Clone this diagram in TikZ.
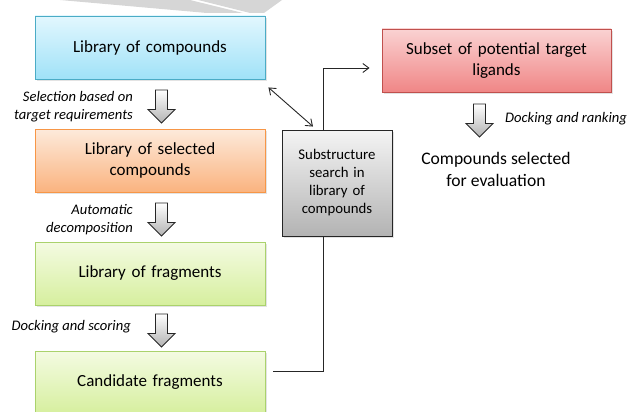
\documentclass[tikz,border=0pt]{standalone}
\usepackage{fontspec}
\setmainfont{Carlito}
\usetikzlibrary{arrows.meta,shadows}
\definecolor{bluetop}{HTML}{E2F7FE}
\definecolor{bluebot}{HTML}{A0E2F8}
\definecolor{blueline}{HTML}{4BACC6}
\definecolor{orgtop}{HTML}{FDEADB}
\definecolor{orgbot}{HTML}{FAB37F}
\definecolor{orgline}{HTML}{F79646}
\definecolor{grntop}{HTML}{F4FBE2}
\definecolor{grnbot}{HTML}{D6EF9E}
\definecolor{grnline}{HTML}{AAD26C}
\definecolor{redtop}{HTML}{FAD2D2}
\definecolor{redbot}{HTML}{F08686}
\definecolor{redline}{HTML}{C0504D}
\definecolor{gtop}{HTML}{F4F4F4}
\definecolor{gbot}{HTML}{B3B3B3}
\definecolor{wmark}{HTML}{D6D6D6}
\tikzset{
  mytip/.tip={Straight Barb[length=6pt,width=9pt]},
  box/.style={rectangle, minimum width=230pt, minimum height=63pt, inner sep=2pt,
    align=center, text width=220pt, line width=0.9pt,
    font=\fontsize{17}{21.5}\selectfont,
    drop shadow={opacity=0.22, shadow xshift=2pt, shadow yshift=-2pt}},
  bluebox/.style={box, draw=blueline, top color=bluetop, bottom color=bluebot},
  orgbox/.style={box, draw=orgline, top color=orgtop, bottom color=orgbot},
  grnbox/.style={box, draw=grnline, top color=grntop, bottom color=grnbot},
  redbox/.style={box, minimum width=229pt, draw=redline, top color=redtop, bottom color=redbot},
  graybox/.style={rectangle, minimum width=110pt, minimum height=106pt, text width=100pt,
    align=center, draw=black!85, line width=0.9pt, top color=gtop, bottom color=gbot,
    font=\fontsize{14.8}{18}\selectfont,
    drop shadow={opacity=0.22, shadow xshift=2pt, shadow yshift=-2pt}},
  lbl/.style={font=\itshape\fontsize{14.6}{18}\selectfont, inner sep=0pt},
  blockarrow/.style={draw=black!85, line width=0.9pt, top color=white, bottom color=black!30},
  conn/.style={draw=black!85, line width=0.9pt}
}
\begin{document}
\begin{tikzpicture}[x=1pt,y=-1pt]
\useasboundingbox (0,0) rectangle (629,412);
\clip (0,0) rectangle (629,412);
% watermark fragment
\fill[wmark] (60,0) -- (190,0) -- (243,13) -- (207,13) -- cycle;
\fill[wmark] (198,0) -- (282,0) -- (264,13) -- (250,13) -- cycle;
% boxes
\node[bluebox] (c1) at (150,47.5) {Library of compounds};
\node[orgbox] (c2) at (150,160.5) {Library of selected\\compounds};
\node[grnbox] (c3) at (150,273.5) {Library of fragments};
\node[grnbox] (c4) at (150,382.5) {Candidate fragments};
\node[redbox] (red) at (496.5,60.5) {Subset of potential target\\ligands};
\node[graybox] (sub) at (337,183) {Substructure\\search in\\library of\\compounds};
\node[font=\fontsize{17.6}{22}\selectfont, align=center, inner sep=0pt] (sel) at (496,169) {Compounds selected\\for evaluation};
% block arrows
\draw[blockarrow,shift={(161.5,90)}] (-6,0) -- (6,0) -- (6,19.5) -- (13.5,19.5) -- (0,33) -- (-13.5,19.5) -- (-6,19.5) -- cycle;
\draw[blockarrow,shift={(161.5,203)}] (-6,0) -- (6,0) -- (6,19.5) -- (13.5,19.5) -- (0,33) -- (-13.5,19.5) -- (-6,19.5) -- cycle;
\draw[blockarrow,shift={(161.5,314)}] (-6,0) -- (6,0) -- (6,19.5) -- (13.5,19.5) -- (0,33) -- (-13.5,19.5) -- (-6,19.5) -- cycle;
\draw[blockarrow,shift={(479.5,104)}] (-6,0) -- (6,0) -- (6,19.5) -- (13.5,19.5) -- (0,33) -- (-13.5,19.5) -- (-6,19.5) -- cycle;
% labels
\node[lbl, anchor=east, align=right] (l1) at (133,107) {Selection based on\\target requirements};
\node[lbl, anchor=east, align=right] (l2) at (133,220) {Automatic\\decomposition};
\node[lbl, anchor=east] (l3) at (131,327) {Docking and scoring};
\node[lbl, anchor=west] (l4) at (505,119) {Docking and ranking};
% connectors
\draw[conn] ([xshift=8pt,yshift=11pt]c4.east) -| ([xshift=-14pt]sub.south);
\draw[conn,-mytip] ([xshift=-14pt]sub.north) |- ([xshift=-12pt,yshift=-7.5pt]red.west);
\draw[conn,mytip-mytip] ([xshift=3pt,yshift=-8pt]c1.south east) -- ([xshift=-24pt,yshift=3pt]sub.north);
\end{tikzpicture}
\end{document}
